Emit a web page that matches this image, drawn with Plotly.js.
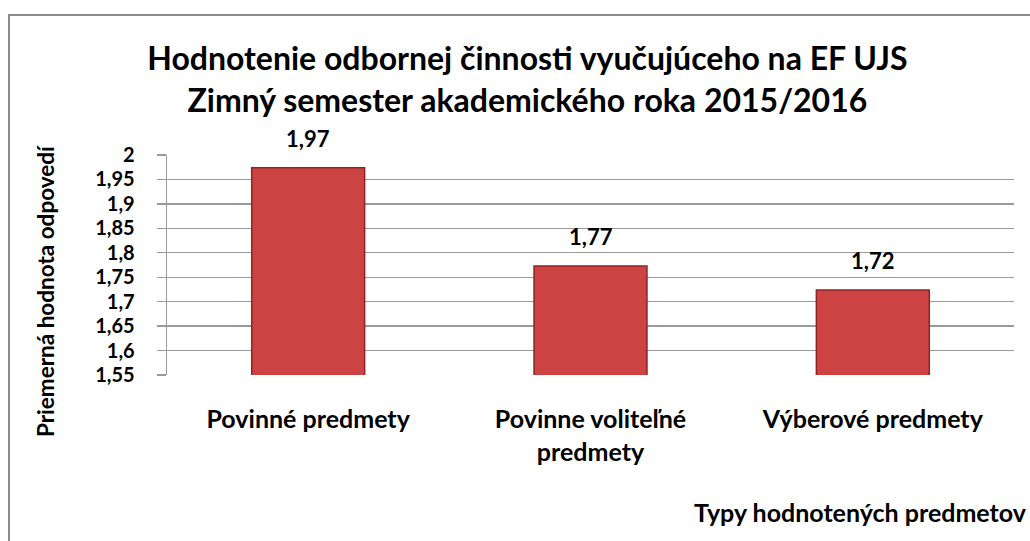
<!DOCTYPE html>
<html>
<head>
<meta charset="utf-8">
<script src="https://cdn.plot.ly/plotly-3.0.1.min.js"></script>
<style>
html,body{margin:0;padding:0;background:#fff;overflow:hidden;}
#frame{position:absolute;left:8px;top:14px;width:1100px;height:600px;border-left:2px solid #8c8c8c;border-top:2px solid #8c8c8c;pointer-events:none;z-index:5;}
#chart{position:absolute;left:0;top:0;width:1030px;height:541px;}
</style>
</head>
<body>
<div id="chart"></div>
<div id="frame"></div>
<script>
const categories = ["Povinné predmety", "Povinne voliteľné<br>predmety", "Výberové predmety"];
const values = [1.974, 1.773, 1.724];
const valueLabels = ["1,97", "1,77", "1,72"];
const yTickVals = [1.55, 1.6, 1.65, 1.7, 1.75, 1.8, 1.85, 1.9, 1.95, 2];
const yTickText = ["1,55", "1,6", "1,65", "1,7", "1,75", "1,8", "1,85", "1,9", "1,95", "2"];
const titleLines = ["Hodnotenie odbornej činnosti vyučujúceho na EF UJS", "Zimný semester akademického roka 2015/2016"];
const yTitle = "Priemerná hodnota odpovedí";
const xTitle = "Typy hodnotených predmetov";

const FONT = "Lato, 'Open Sans', sans-serif";

const trace = {
  type: "bar",
  x: categories,
  y: values,
  marker: {
    color: "#cd4242",
    line: {color: "#8e2424", width: 1.5}
  },
  hoverinfo: "skip"
};

const annotations = categories.map((c, i) => ({
  x: c, y: values[i], xref: "x", yref: "y",
  text: valueLabels[i], showarrow: false,
  yanchor: "bottom", yshift: 14,
  font: {family: FONT, size: 22, color: "#000", weight: "bold"}
}));
annotations.push({
  xref: "paper", yref: "paper", x: -0.144, y: 0.5,
  xanchor: "center", yanchor: "middle", yshift: -26,
  text: yTitle, textangle: -90, showarrow: false,
  font: {family: FONT, size: 22.5, color: "#000", weight: "bold"}
});
annotations.push({
  xref: "paper", yref: "paper", x: (692 - 167) / 847, y: 0,
  xanchor: "left", yanchor: "middle", yshift: -137,
  text: xTitle, showarrow: false,
  font: {family: FONT, size: 25, color: "#000", weight: "bold"}
});

const layout = {
  width: 1030, height: 541,
  margin: {l: 167, r: 16, t: 155, b: 166},
  paper_bgcolor: "rgba(0,0,0,0)",
  plot_bgcolor: "#fff",
  showlegend: false,
  separators: ", ",
  bargap: 0.6,
  title: {
    text: titleLines.join("<br>"),
    x: 0.512, xanchor: "center",
    y: 1 - 70 / 541, yanchor: "top", yref: "container",
    font: {family: FONT, size: 32, color: "#000", weight: "bold"}
  },
  xaxis: {
    type: "category",
    showgrid: false, zeroline: false,
    showline: false,
    ticks: "",
    ticklabelstandoff: 27,
    tickfont: {family: FONT, size: 25, color: "#000", weight: "bold"}
  },
  yaxis: {
    range: [1.55, 2],
    tickvals: yTickVals,
    ticktext: yTickText,
    showgrid: true, gridcolor: "#9a9a9a", gridwidth: 1.3,
    zeroline: false,
    showline: true, linecolor: "#9a9a9a", linewidth: 1.3,
    ticks: "outside", ticklen: 9, tickcolor: "#9a9a9a", tickwidth: 1.3,
    ticklabelstandoff: 18,
    tickfont: {family: FONT, size: 20, color: "#000", weight: "bold"}
  },
  annotations: annotations
};

Plotly.newPlot("chart", [trace], layout, {displayModeBar: false, staticPlot: true});
</script>
</body>
</html>
